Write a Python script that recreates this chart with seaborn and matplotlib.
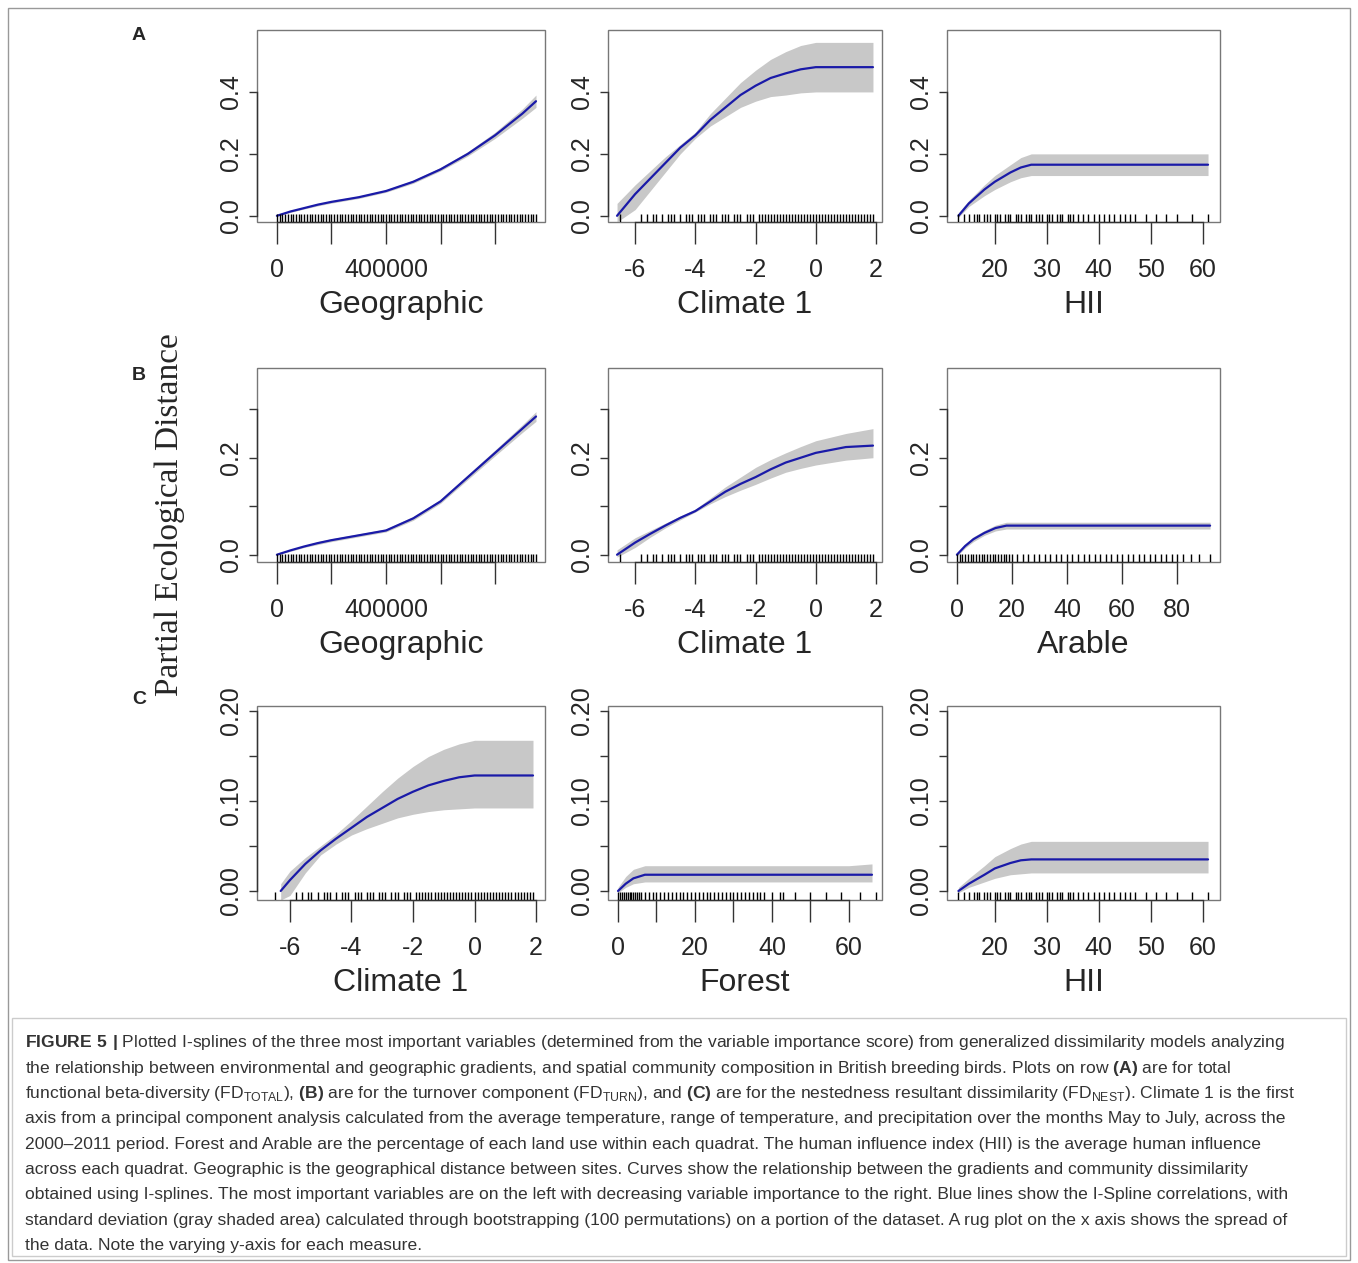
import matplotlib
matplotlib.use("Agg")
import matplotlib.pyplot as plt
import seaborn as sns
import pandas as pd
from matplotlib.patches import Rectangle

sns.set_theme(style="white")
plt.rcParams['font.family'] = ['Liberation Sans', 'DejaVu Sans']
plt.rcParams['mathtext.fontset'] = 'custom'
plt.rcParams['mathtext.rm'] = 'Liberation Sans'
plt.rcParams['mathtext.bf'] = 'Liberation Sans:bold'

# ---- data ----
geo_x = [0, 50000, 100000, 150000, 200000, 300000, 400000, 500000, 600000, 700000, 800000, 900000, 950000]
a1_y = [0, 0.014, 0.025, 0.036, 0.045, 0.06, 0.08, 0.11, 0.15, 0.2, 0.26, 0.33, 0.37]
a1_lo = [0, 0.011, 0.022, 0.032, 0.041, 0.056, 0.076, 0.105, 0.145, 0.193, 0.25, 0.315, 0.35]
a1_hi = [0.005, 0.017, 0.028, 0.04, 0.049, 0.064, 0.084, 0.115, 0.156, 0.207, 0.27, 0.345, 0.39]

clim_a_x = [-6.6, -6, -5.5, -5, -4.5, -4, -3.5, -3, -2.5, -2, -1.5, -1, -0.5, 0, 1, 1.9]
a2_y = [0, 0.07, 0.12, 0.17, 0.22, 0.26, 0.31, 0.35, 0.39, 0.42, 0.445, 0.46, 0.473, 0.48, 0.48, 0.48]
a2_lo = [-0.02, 0.02, 0.08, 0.14, 0.2, 0.25, 0.29, 0.32, 0.35, 0.37, 0.385, 0.39, 0.397, 0.40, 0.40, 0.40]
a2_hi = [0.04, 0.10, 0.145, 0.19, 0.23, 0.27, 0.33, 0.38, 0.43, 0.47, 0.505, 0.53, 0.55, 0.56, 0.56, 0.56]

hii_x = [13, 15, 18, 20, 23, 25, 27, 35, 45, 55, 61]
a3_y = [0, 0.04, 0.085, 0.11, 0.14, 0.156, 0.165, 0.165, 0.165, 0.165, 0.165]
a3_lo = [-0.005, 0.03, 0.065, 0.085, 0.11, 0.123, 0.13, 0.13, 0.13, 0.13, 0.13]
a3_hi = [0.01, 0.05, 0.1, 0.13, 0.165, 0.188, 0.2, 0.2, 0.2, 0.2, 0.2]

b1_y = [0, 0.009, 0.017, 0.024, 0.03, 0.04, 0.05, 0.075, 0.11, 0.16, 0.21, 0.26, 0.285]
b1_lo = [0, 0.007, 0.015, 0.021, 0.027, 0.037, 0.047, 0.071, 0.106, 0.155, 0.204, 0.252, 0.275]
b1_hi = [0.003, 0.011, 0.019, 0.027, 0.033, 0.043, 0.053, 0.079, 0.114, 0.165, 0.216, 0.268, 0.295]

b2_y = [0, 0.025, 0.043, 0.06, 0.076, 0.09, 0.11, 0.13, 0.146, 0.16, 0.176, 0.19, 0.2, 0.21, 0.222, 0.225]
b2_lo = [-0.005, 0.015, 0.036, 0.055, 0.072, 0.088, 0.105, 0.12, 0.133, 0.145, 0.158, 0.17, 0.178, 0.185, 0.195, 0.2]
b2_hi = [0.01, 0.035, 0.05, 0.065, 0.08, 0.094, 0.117, 0.14, 0.16, 0.18, 0.196, 0.21, 0.223, 0.235, 0.25, 0.26]

arable_x = [0, 3, 6, 10, 14, 18, 30, 50, 70, 92]
b3_y = [0, 0.018, 0.032, 0.045, 0.055, 0.06, 0.06, 0.06, 0.06, 0.06]
b3_lo = [-0.003, 0.014, 0.027, 0.04, 0.049, 0.053, 0.053, 0.053, 0.053, 0.053]
b3_hi = [0.003, 0.022, 0.037, 0.05, 0.061, 0.067, 0.067, 0.067, 0.067, 0.067]

clim_c_x = [-6.3, -6, -5.5, -5, -4.5, -4, -3.5, -3, -2.5, -2, -1.5, -1, -0.5, 0, 1, 1.9]
c1_y = [0, 0.012, 0.03, 0.045, 0.058, 0.07, 0.082, 0.092, 0.102, 0.11, 0.117, 0.122, 0.126, 0.128, 0.128, 0.128]
c1_lo = [-0.01, -0.005, 0.02, 0.04, 0.052, 0.062, 0.069, 0.075, 0.081, 0.085, 0.088, 0.09, 0.091, 0.092, 0.092, 0.092]
c1_hi = [0.008, 0.022, 0.037, 0.05, 0.063, 0.078, 0.094, 0.11, 0.125, 0.138, 0.149, 0.157, 0.163, 0.167, 0.167, 0.167]

forest_x = [0, 2, 4, 7, 15, 30, 45, 60, 66]
c2_y = [0, 0.008, 0.014, 0.018, 0.018, 0.018, 0.018, 0.018, 0.018]
c2_lo = [-0.002, 0.004, 0.008, 0.01, 0.01, 0.01, 0.01, 0.01, 0.01]
c2_hi = [0.004, 0.016, 0.024, 0.028, 0.028, 0.028, 0.028, 0.028, 0.03]

c3_y = [0, 0.008, 0.018, 0.025, 0.031, 0.034, 0.035, 0.035, 0.035, 0.035, 0.035]
c3_lo = [-0.002, 0.004, 0.01, 0.014, 0.018, 0.019, 0.02, 0.02, 0.02, 0.02, 0.02]
c3_hi = [0.004, 0.014, 0.028, 0.038, 0.047, 0.052, 0.055, 0.055, 0.055, 0.055, 0.055]

# rug positions (approximate)
rug_geo = [0, 10000, 20000, 30000, 40000, 50000, 60000, 70000, 80000, 90000, 100000,
           110000, 120000, 130000, 140000, 150000, 160000, 170000, 180000, 190000, 200000,
           210000, 220000, 230000, 240000, 250000, 260000, 270000, 280000, 290000, 300000,
           310000, 320000, 330000, 340000, 350000, 360000, 370000, 380000, 390000, 400000,
           410000, 420000, 430000, 440000, 450000, 460000, 470000, 480000, 490000, 500000,
           510000, 520000, 530000, 540000, 550000, 560000, 570000, 580000, 590000, 600000,
           610000, 620000, 630000, 640000, 650000, 660000, 670000, 680000, 690000, 700000,
           710000, 720000, 730000, 740000, 750000, 760000, 770000, 780000, 790000, 800000,
           810000, 820000, 830000, 840000, 850000, 860000, 870000, 880000, 890000, 900000,
           910000, 920000, 930000, 940000, 950000]
rug_clim = [-6.5, -5.8, -5.6, -5.4, -5.3, -5.1, -4.9, -4.8, -4.7, -4.5, -4.3, -4.2, -4.1,
            -3.9, -3.8, -3.7, -3.5, -3.4, -3.3, -3.1, -3.0, -2.9, -2.7, -2.6, -2.5, -2.3,
            -2.2, -2.1, -1.9, -1.8, -1.7, -1.6, -1.5, -1.4, -1.3, -1.2, -1.1, -1.0, -0.9,
            -0.8, -0.7, -0.6, -0.5, -0.4, -0.3, -0.2, -0.1, 0.0, 0.1, 0.2, 0.3, 0.4, 0.5,
            0.6, 0.7, 0.8, 0.9, 1.0, 1.1, 1.2, 1.3, 1.4, 1.5, 1.6, 1.7, 1.8, 1.9]
rug_hii = [13, 14, 15, 16, 16.5, 17, 18, 18.5, 19, 20, 20.5, 21, 22, 22.5, 23, 24, 24.5,
           25, 26, 26.5, 27, 28, 28.5, 29, 30, 30.5, 31, 32, 32.5, 33, 34, 34.5, 35, 36,
           37, 38, 39, 40, 41, 42, 43, 44, 45, 46, 47, 49, 51, 53, 55, 58, 61]
rug_arable = [0, 1, 2, 3, 4, 5, 6, 7, 8, 9, 10, 11, 12, 13, 14, 15, 16, 17, 18, 19, 20,
              22, 24, 26, 28, 30, 32, 34, 36, 38, 40, 42, 44, 46, 48, 50, 52, 54, 56, 58,
              60, 62, 64, 66, 68, 70, 72, 74, 76, 78, 80, 82, 85, 88, 92]
rug_forest = [0, 0.5, 1, 1.5, 2, 2.5, 3, 3.5, 4, 4.5, 5, 5.5, 6, 7, 8, 9, 10, 11, 12, 13,
              14, 15, 16, 17, 18, 19, 20, 21, 22, 23, 24, 25, 26, 27, 28, 29, 30, 31, 32,
              33, 34, 35, 36, 37, 38, 40, 42, 43, 46, 50, 54, 58, 63, 67]

panels = [
    (0, 0, geo_x, a1_y, a1_lo, a1_hi, rug_geo, (-73000, 983000), (-0.02, 0.6),
     [0, 200000, 400000, 600000, 800000], ["0", "", "400000", "", ""], [0, 0.2, 0.4], ["0.0", "0.2", "0.4"], "Geographic"),
    (0, 1, clim_a_x, a2_y, a2_lo, a2_hi, rug_clim, (-6.9, 2.2), (-0.02, 0.6),
     [-6, -4, -2, 0, 2], ["-6", "-4", "-2", "0", "2"], [0, 0.2, 0.4], ["0.0", "0.2", "0.4"], "Climate 1"),
    (0, 2, hii_x, a3_y, a3_lo, a3_hi, rug_hii, (10.8, 63.3), (-0.02, 0.6),
     [20, 30, 40, 50, 60], ["20", "30", "40", "50", "60"], [0, 0.2, 0.4], ["0.0", "0.2", "0.4"], "HII"),
    (1, 0, geo_x, b1_y, b1_lo, b1_hi, rug_geo, (-73000, 983000), (-0.015, 0.385),
     [0, 200000, 400000, 600000, 800000], ["0", "", "400000", "", ""], [0, 0.1, 0.2, 0.3], ["0.0", "", "0.2", ""], "Geographic"),
    (1, 1, clim_a_x, b2_y, b2_lo, b2_hi, rug_clim, (-6.9, 2.2), (-0.015, 0.385),
     [-6, -4, -2, 0, 2], ["-6", "-4", "-2", "0", "2"], [0, 0.1, 0.2, 0.3], ["0.0", "", "0.2", ""], "Climate 1"),
    (1, 2, arable_x, b3_y, b3_lo, b3_hi, rug_arable, (-3.6, 95.6), (-0.015, 0.385),
     [0, 20, 40, 60, 80], ["0", "20", "40", "60", "80"], [0, 0.1, 0.2, 0.3], ["0.0", "", "0.2", ""], "Arable"),
    (2, 0, clim_c_x, c1_y, c1_lo, c1_hi, rug_clim, (-7.07, 2.29), (-0.01, 0.205),
     [-6, -4, -2, 0, 2], ["-6", "-4", "-2", "0", "2"], [0, 0.05, 0.1, 0.15, 0.2], ["0.00", "", "0.10", "", "0.20"], "Climate 1"),
    (2, 1, forest_x, c2_y, c2_lo, c2_hi, rug_forest, (-2.6, 68.6), (-0.01, 0.205),
     [0, 10, 20, 30, 40, 50, 60], ["0", "", "20", "", "40", "", "60"], [0, 0.05, 0.1, 0.15, 0.2], ["0.00", "", "0.10", "", "0.20"], "Forest"),
    (2, 2, hii_x, c3_y, c3_lo, c3_hi, rug_hii, (10.8, 63.3), (-0.01, 0.205),
     [20, 30, 40, 50, 60], ["20", "30", "40", "50", "60"], [0, 0.05, 0.1, 0.15, 0.2], ["0.00", "", "0.10", "", "0.20"], "HII"),
]

W, H = 1358, 1263
fig = plt.figure(figsize=(W / 100, H / 100), dpi=100)
col_x = [(257, 545), (608, 882), (947, 1220)]
row_y = [(30, 222), (368, 562), (706, 900)]

for (r, c, x, y, lo, hi, rug, xlim, ylim, xt, xtl, yt, ytl, xlab) in panels:
    x0, x1 = col_x[c]
    y0, y1 = row_y[r]
    ax = fig.add_axes([x0 / W, 1 - y1 / H, (x1 - x0) / W, (y1 - y0) / H])
    ax.fill_between(x, lo, hi, color="#c8c8c8", lw=0)
    df = pd.DataFrame({"x": x, "y": y})
    sns.lineplot(data=df, x="x", y="y", ax=ax, color="#1a1aa8", lw=1.6)
    sns.rugplot(x=rug, ax=ax, height=0.04, color="black", lw=2.2)
    ax.set_xlim(*xlim)
    ax.set_ylim(*ylim)
    for s in ["top", "right"]:
        ax.spines[s].set_visible(False)
    ax.spines["left"].set_position(("outward", 0))
    ax.spines["bottom"].set_position(("outward", 0))
    ax.spines["left"].set_bounds(yt[0], yt[-1])
    ax.spines["bottom"].set_bounds(xt[0], xt[-1])
    for s in ["left", "bottom"]:
        ax.spines[s].set_color("#333333")
        ax.spines[s].set_linewidth(1.0)
    ax.add_patch(Rectangle((0, 0), 1, 1, transform=ax.transAxes, fill=False,
                           ec="#777777", lw=1.0, clip_on=False))
    ax.set_xticks(xt)
    ax.set_xticklabels(xtl)
    ax.set_yticks(yt)
    ax.set_yticklabels(ytl, rotation=90, va="center")
    ax.tick_params(axis="x", direction="out", length=16, width=1, color="#333333",
                   labelsize=18, bottom=True, pad=10)
    ax.tick_params(axis="y", direction="out", length=6, width=1, color="#333333",
                   labelsize=18, left=True, pad=4)
    ax.set_xlabel(xlab, fontsize=23, labelpad=6)
    ax.set_ylabel("")

fig.text(170 / W, 1 - 515 / H, "Partial Ecological Distance", rotation=90,
         fontsize=24, family=["Liberation Serif"], ha="center", va="center")
for lab, yy in [("A", 36), ("B", 376), ("C", 700)]:
    fig.text(139 / W, 1 - yy / H, lab, fontsize=14, fontweight="bold", ha="center", va="center")

# borders
fig.add_artist(Rectangle((8 / W, 1 - 1260 / H), 1342 / W, 1252 / H, transform=fig.transFigure,
                         fill=False, ec="#999999", lw=1))
fig.add_artist(Rectangle((12 / W, 1 - 1256 / H), 1334 / W, 238 / H, transform=fig.transFigure,
                         fill=False, ec="#cccccc", lw=1))

caption = [
    r"$\bf{FIGURE\ 5\ |}$ Plotted I-splines of the three most important variables (determined from the variable importance score) from generalized dissimilarity models analyzing",
    r"the relationship between environmental and geographic gradients, and spatial community composition in British breeding birds. Plots on row $\bf{(A)}$ are for total",
    r"functional beta-diversity (FD$_{\mathrm{TOTAL}}$), $\bf{(B)}$ are for the turnover component (FD$_{\mathrm{TURN}}$), and $\bf{(C)}$ are for the nestedness resultant dissimilarity (FD$_{\mathrm{NEST}}$). Climate 1 is the first",
    "axis from a principal component analysis calculated from the average temperature, range of temperature, and precipitation over the months May to July, across the",
    "2000–2011 period. Forest and Arable are the percentage of each land use within each quadrat. The human influence index (HII) is the average human influence",
    "across each quadrat. Geographic is the geographical distance between sites. Curves show the relationship between the gradients and community dissimilarity",
    "obtained using I-splines. The most important variables are on the left with decreasing variable importance to the right. Blue lines show the I-Spline correlations, with",
    "standard deviation (gray shaded area) calculated through bootstrapping (100 permutations) on a portion of the dataset. A rug plot on the x axis shows the spread of",
    "the data. Note the varying y-axis for each measure.",
]
for i, line in enumerate(caption):
    fig.text(25 / W, 1 - (1043 + i * 25.3) / H, line, fontsize=12.6, color="#333333",
             ha="left", va="center")

fig.savefig("out.png", dpi=100)
